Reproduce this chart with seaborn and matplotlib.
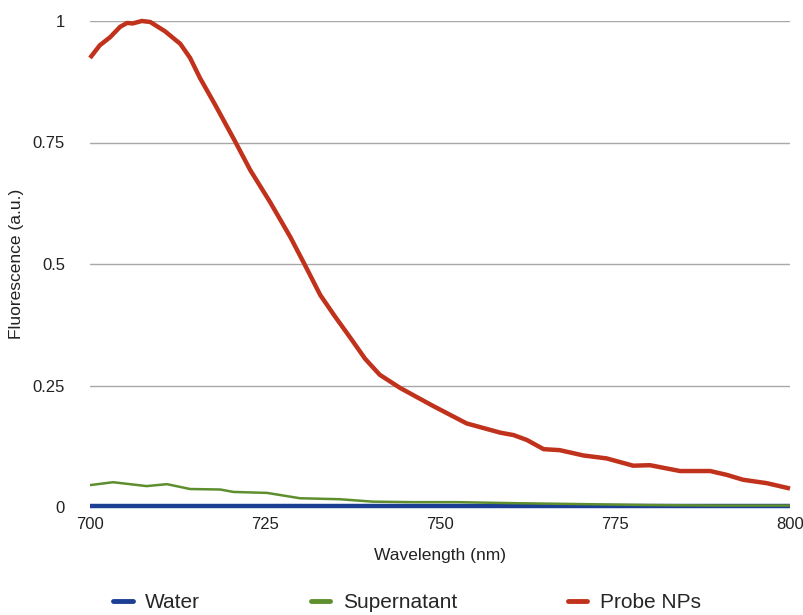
import matplotlib
matplotlib.use("Agg")
import matplotlib.pyplot as plt
import seaborn as sns
import pandas as pd
from matplotlib.lines import Line2D

# ---- data ----
water_nm = [700, 725, 750, 775, 800]
water_val = [0.002, 0.002, 0.002, 0.002, 0.002]

super_nm = [700, 703.3, 708.1, 711.0, 714.3, 718.6, 720.5, 725.3, 730.0, 735.7,
            740.4, 746.1, 752.4, 760, 770, 780, 790, 800]
super_val = [0.045, 0.051, 0.043, 0.047, 0.037, 0.036, 0.031, 0.029, 0.018, 0.016,
             0.011, 0.010, 0.010, 0.008, 0.006, 0.004, 0.003, 0.003]

probe_nm = [700, 701.4, 702.9, 704.3, 705.3, 706.1, 707.4, 708.6, 710.7, 712.9,
            714.3, 715.7, 717.9, 720.7, 722.9, 725.7, 728.6, 730.7, 732.9, 735.0,
            737.1, 739.3, 741.4, 744.3, 749.0, 753.8, 758.6, 760.5, 762.4, 764.8,
            767.1, 770.5, 773.8, 777.6, 780.0, 784.3, 788.6, 791.0, 793.3, 796.7, 800]
probe_val = [0.924, 0.950, 0.967, 0.988, 0.996, 0.995, 1.000, 0.998, 0.979, 0.953,
             0.924, 0.883, 0.827, 0.753, 0.693, 0.628, 0.556, 0.498, 0.436, 0.392,
             0.350, 0.305, 0.272, 0.245, 0.208, 0.172, 0.153, 0.148, 0.138, 0.119,
             0.117, 0.106, 0.100, 0.085, 0.086, 0.074, 0.074, 0.066, 0.056, 0.049, 0.038]

series = ["Water", "Supernatant", "Probe NPs"]
xticks = [700, 725, 750, 775, 800]
yticks = [0, 0.25, 0.5, 0.75, 1]
ytick_labels = ["0", "0.25", "0.5", "0.75", "1"]

df = pd.concat([
    pd.DataFrame({"Wavelength": water_nm, "Fluorescence": water_val, "Series": "Water"}),
    pd.DataFrame({"Wavelength": super_nm, "Fluorescence": super_val, "Series": "Supernatant"}),
    pd.DataFrame({"Wavelength": probe_nm, "Fluorescence": probe_val, "Series": "Probe NPs"}),
], ignore_index=True)

sns.set_theme(style="white")
plt.rcParams["font.family"] = ["Liberation Sans", "DejaVu Sans"]

palette = {"Water": "#1c3f94", "Supernatant": "#5e8e2e", "Probe NPs": "#c0321c"}
widths = {"Water": 3.2, "Supernatant": 1.8, "Probe NPs": 3.2}

fig = plt.figure(figsize=(8.04, 6.15), dpi=100)
ax = fig.add_axes([90/804, 1-507/615, 700/804, 486/615])

sns.lineplot(data=df, x="Wavelength", y="Fluorescence", hue="Series",
             hue_order=series, palette=palette, ax=ax, legend=False,
             estimator=None, sort=True)
for line, s in zip(ax.get_lines(), series):
    line.set_linewidth(widths[s])
    line.set_clip_on(False)
    line.set_solid_capstyle("butt")
    line.set_solid_joinstyle("round")

ax.set_xlim(700, 800)
ax.set_ylim(0, 1)
ax.set_xticks(xticks)
ax.set_xticklabels([str(t) for t in xticks])
ax.set_yticks(yticks)
ax.set_yticklabels(ytick_labels)
ax.grid(axis="y", color="#a8a8a8", linewidth=1.0)
ax.grid(axis="x", visible=False)
ax.set_axisbelow(True)
for sp in ax.spines.values():
    sp.set_visible(False)
ax.tick_params(axis="both", length=0, labelsize=12, colors="#222222")
ax.tick_params(axis="y", pad=18)
ax.tick_params(axis="x", pad=7)
ax.set_xlabel("Wavelength (nm)", fontsize=12.5, color="#222222", labelpad=12)
ax.set_ylabel("Fluorescence (a.u.)", fontsize=12.5, color="#222222", labelpad=6)

handles = [Line2D([0], [0], color=palette[s], linewidth=3.5) for s in series]
fig.legend(handles, series, loc="center", bbox_to_anchor=(0.506, 0.02), ncol=3,
           frameon=False, fontsize=15, handlelength=0.95, handletextpad=0.6,
           columnspacing=5.3)

fig.savefig("out.png", dpi=100)
